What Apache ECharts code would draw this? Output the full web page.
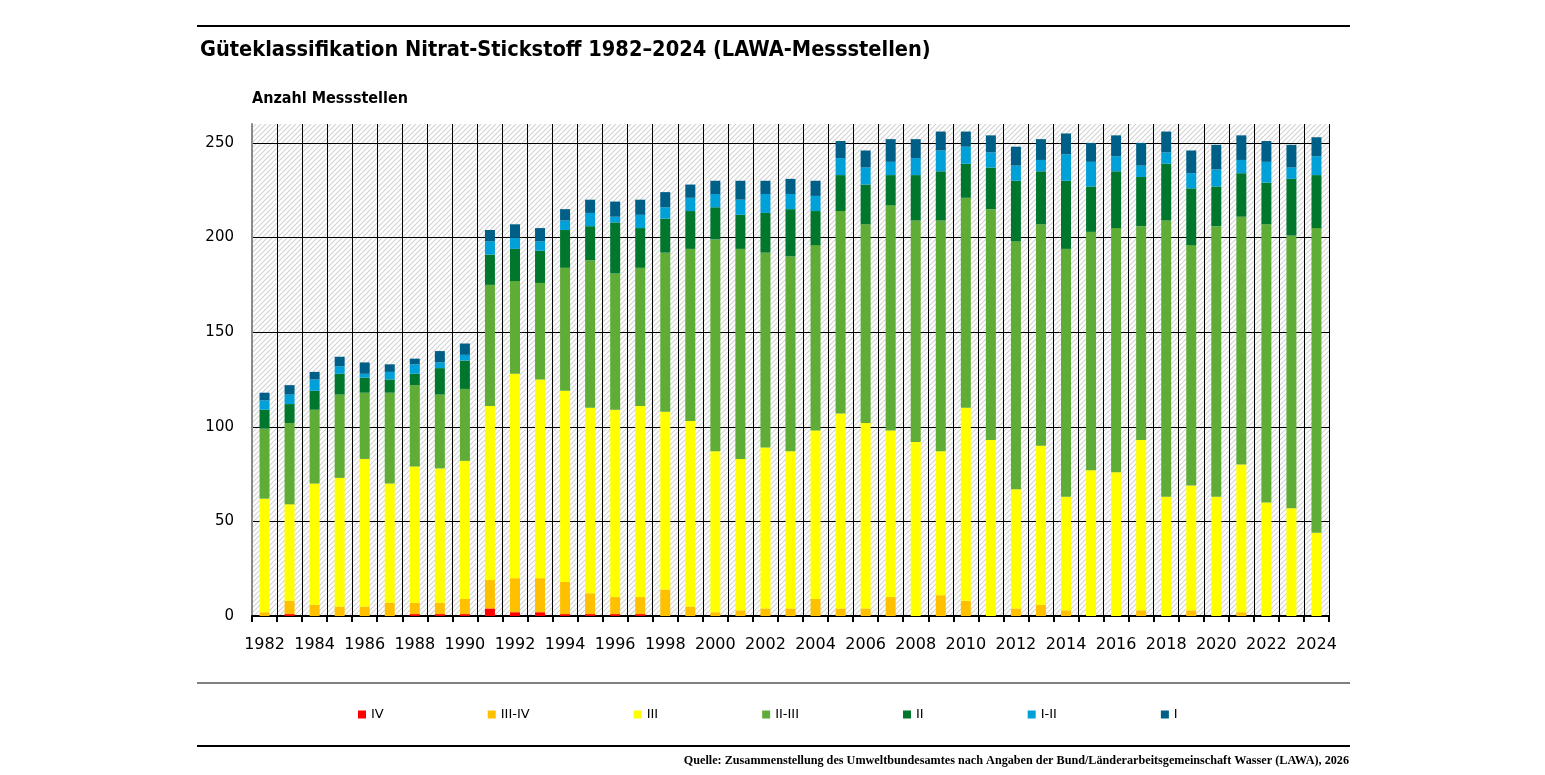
<!DOCTYPE html>
<html>
<head>
<meta charset="utf-8">
<title>Güteklassifikation Nitrat-Stickstoff</title>
<script src="https://cdn.jsdelivr.net/npm/echarts@6/dist/echarts.min.js"></script>
<style>
  html, body { margin: 0; padding: 0; background: #fff; }
  #chart { width: 1545px; height: 775px; }
</style>
</head>
<body>
<div id="chart"></div>
<script>
// Jahre
var years = [];
for (var y = 1982; y <= 2024; y++) { years.push(String(y)); }

// Anzahl Messstellen je Güteklasse
var classIV = [0,1,0,0,0,0,1,1,1,4,2,2,1,1,1,1,0,0,0,0,0,0,0,0,0,0,0,0,0,0,0,0,0,0,0,0,0,0,0,0,0,0,0];
var classIIIIV = [2,7,6,5,5,7,6,6,8,15,18,18,17,11,9,9,14,5,2,3,4,4,9,4,4,10,0,11,8,0,4,6,3,0,0,3,0,3,0,2,0,0,0];
var classIII = [60,51,64,68,78,63,72,71,73,92,108,105,101,98,99,101,94,98,85,80,85,83,89,103,98,88,92,76,102,93,63,84,60,77,76,90,63,66,63,78,60,57,44];
var classIIIII = [37,43,39,44,35,48,43,39,38,64,49,51,65,78,72,73,84,91,112,111,103,103,98,107,105,119,117,122,111,122,131,117,131,126,129,113,146,127,143,131,147,144,161];
var classII = [10,10,10,11,8,7,6,14,15,16,17,17,20,18,27,21,18,20,17,18,21,25,18,19,21,16,24,26,18,22,32,28,36,24,30,26,30,30,21,23,22,30,28];
var classIII_ = [5,5,6,4,2,4,5,3,3,7,6,5,5,7,3,7,6,7,7,8,10,8,8,9,9,7,9,11,9,8,8,6,14,13,8,6,6,8,9,7,11,6,10];
var classI = [4,5,4,5,6,4,3,6,6,6,7,7,6,7,8,8,8,7,7,10,7,8,8,9,9,12,10,10,8,9,10,11,11,10,11,12,11,12,13,13,11,12,10];

var legendNames = ['IV', 'III-IV', 'III', 'II-III', 'II', 'I-II', 'I'];
var colors = ['#ff0000', '#ffc000', '#ffff00', '#5fad37', '#00772d', '#00a0d8', '#005f86'];
var seriesData = [classIV, classIIIIV, classIII, classIIIII, classII, classIII_, classI];

// Schraffur für den Diagrammhintergrund
function hatch() {
    var s = 5;
    var c = document.createElement('canvas');
    c.width = s; c.height = s;
    var g = c.getContext('2d');
    g.fillStyle = '#ffffff';
    g.fillRect(0, 0, s, s);
    g.strokeStyle = '#d4d4d4';
    g.lineWidth = 1.2;
    g.beginPath();
    g.moveTo(-1, s + 1); g.lineTo(s + 1, -1);
    g.moveTo(-1, 1); g.lineTo(1, -1);
    g.moveTo(s - 1, s + 1); g.lineTo(s + 1, s - 1);
    g.stroke();
    return c;
}

var myChart = echarts.init(document.getElementById('chart'));

var series = legendNames.map(function (name, i) {
    return {
        name: name,
        type: 'bar',
        stack: 'gesamt',
        barWidth: 10,
        itemStyle: { color: colors[i] },
        emphasis: { disabled: true },
        data: seriesData[i]
    };
});

var option = {
    animation: false,
    backgroundColor: '#fff',
    title: [{
        text: 'Güteklassifikation Nitrat-Stickstoff 1982–2024 (LAWA-Messstellen)',
        left: 195,
        top: 34,
        textStyle: {
            fontFamily: 'DejaVu Sans Condensed',
            fontWeight: 'bold',
            fontSize: 21.6,
            color: '#000'
        }
    }, {
        text: 'Anzahl Messstellen',
        left: 247,
        top: 86,
        textStyle: {
            fontFamily: 'DejaVu Sans Condensed',
            fontWeight: 'bold',
            fontSize: 16,
            color: '#000'
        }
    }, {
        text: 'Quelle: Zusammenstellung des Umweltbundesamtes nach Angaben der Bund/Länderarbeitsgemeinschaft Wasser (LAWA), 2026',
        right: 191,
        top: 750,
        textStyle: {
            fontFamily: 'Liberation Serif',
            fontWeight: 'bold',
            fontSize: 12.2,
            color: '#000'
        }
    }],
    legend: {
        left: 353,
        top: 703,
        itemWidth: 8,
        itemHeight: 8,
        itemGap: 104,
        icon: 'rect',
        selectedMode: false,
        textStyle: {
            fontFamily: 'DejaVu Sans',
            fontSize: 13,
            color: '#000'
        },
        data: legendNames
    },
    graphic: [
        { type: 'line', shape: { x1: 197, y1: 26, x2: 1350, y2: 26 }, style: { stroke: '#000', lineWidth: 2 } },
        { type: 'line', shape: { x1: 197, y1: 683, x2: 1350, y2: 683 }, style: { stroke: '#808080', lineWidth: 2 } },
        { type: 'line', shape: { x1: 197, y1: 746, x2: 1350, y2: 746 }, style: { stroke: '#000', lineWidth: 2 } }
    ],
    grid: {
        left: 252,
        right: 216,
        top: 124,
        bottom: 159,
        show: true,
        borderWidth: 0,
        backgroundColor: { image: hatch(), repeat: 'repeat' }
    },
    xAxis: {
        type: 'category',
        data: years,
        axisLine: { lineStyle: { color: '#000', width: 2 } },
        axisTick: { show: true, interval: 0, length: 6, lineStyle: { color: '#000', width: 2 } },
        axisLabel: {
            interval: 1,
            margin: 21,
            fontFamily: 'DejaVu Sans',
            fontSize: 16,
            color: '#000'
        },
        splitLine: { show: true, interval: 0, lineStyle: { color: '#000', width: 1 } }
    },
    yAxis: {
        type: 'value',
        min: 0,
        max: 260,
        interval: 50,
        axisLine: { show: true, lineStyle: { color: '#8a8a8a', width: 2 } },
        axisTick: { show: false },
        axisLabel: {
            showMaxLabel: false,
            margin: 18,
            fontFamily: 'DejaVu Sans',
            fontSize: 15,
            color: '#000'
        },
        splitLine: { show: true, showMaxLine: false, lineStyle: { color: '#000', width: 1 } }
    },
    series: series
};

myChart.setOption(option);
window.addEventListener('resize', function () {
    myChart.resize();
});
</script>
</body>
</html>
